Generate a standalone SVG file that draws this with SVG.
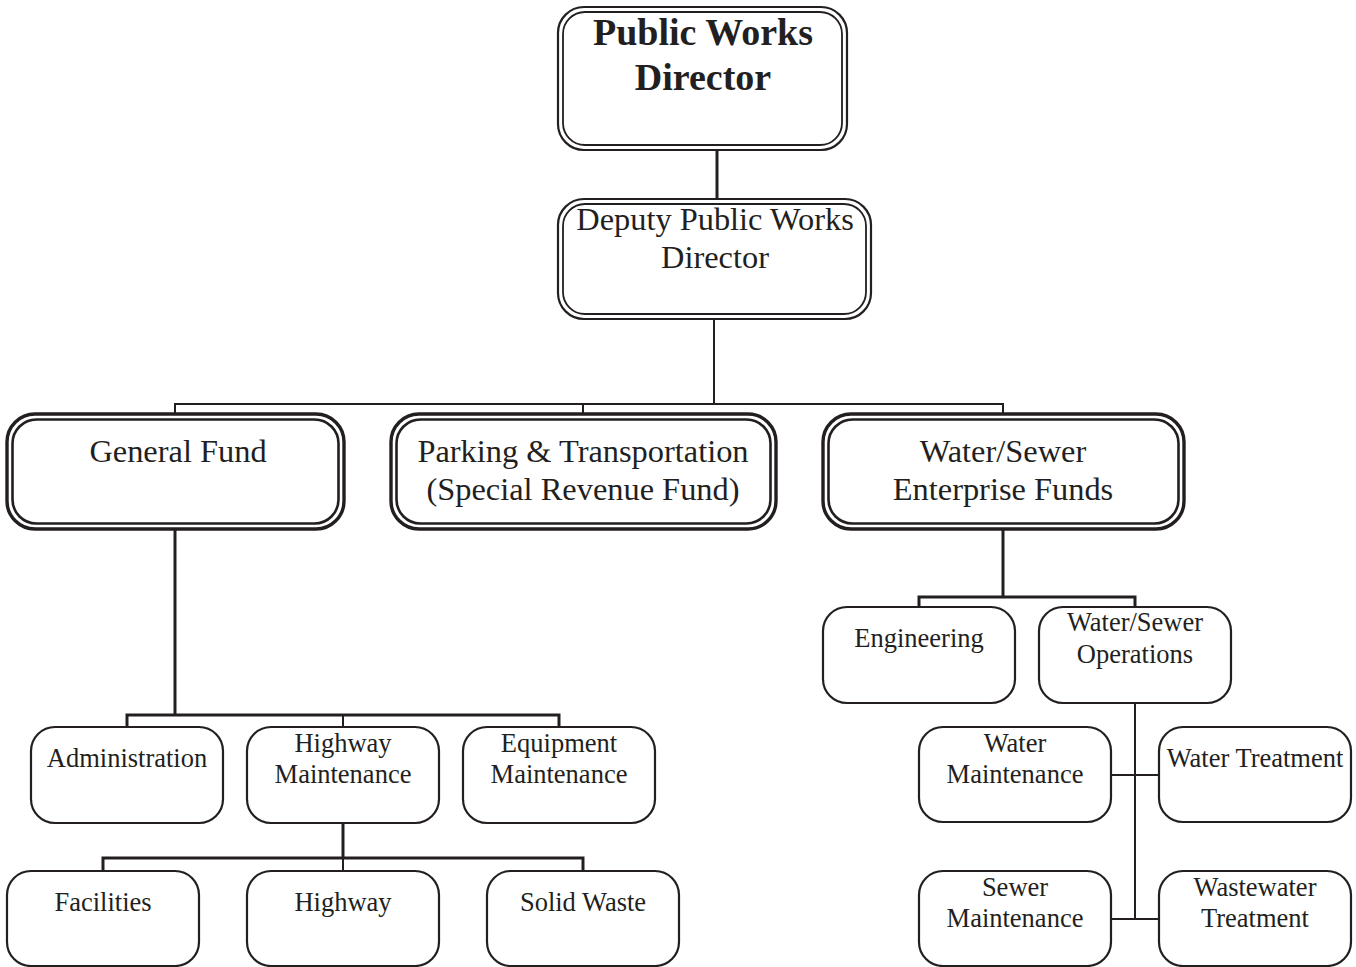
<svg xmlns="http://www.w3.org/2000/svg" width="1356" height="967" viewBox="0 0 1356 967">
  <style>
    text { font-family: "Liberation Serif", "Times New Roman", serif; fill: #231f20; text-anchor: middle; }
    .t1 { font-size: 38px; font-weight: bold; }
    .t2 { font-size: 32.4px; }
    .t3 { font-size: 26.5px; }
    .o1 { fill: #fff; stroke: #231f20; stroke-width: 2.2; }
    .i1 { fill: none; stroke: #231f20; stroke-width: 1.8; }
    .o2 { fill: #fff; stroke: #231f20; stroke-width: 3.4; }
    .i2 { fill: none; stroke: #231f20; stroke-width: 2.6; }
    .box { fill: #fff; stroke: #231f20; stroke-width: 2.2; }
    .ln { fill: none; stroke: #231f20; stroke-width: 3; }
    .ln2 { fill: none; stroke: #231f20; stroke-width: 2; }
  </style>

  <!-- connectors -->
  <g id="connectors">
    <path class="ln" d="M717 151 V198"/>
    <path class="ln2" d="M714 319 V404"/>
    <path class="ln2" d="M175 415 V404 H1003 V415 M583 404 V415"/>
    <path class="ln" d="M175 529 V715"/>
    <path class="ln" d="M127 727 V715 H559 V727"/>
    <path class="ln2" d="M343 715 V727"/>
    <path class="ln" d="M343 823 V858"/>
    <path class="ln" d="M103 871 V858 H583 V871"/>
    <path class="ln2" d="M343 858 V871"/>
    <path class="ln" d="M1003 529 V597"/>
    <path class="ln" d="M919 607 V597 H1135 V607"/>
    <path class="ln2" d="M1135 703 V919"/>
    <path class="ln2" d="M1111 775 H1158 M1111 919 H1158"/>
  </g>

  <g id="director">
    <rect class="o1" x="558" y="7" width="289" height="143" rx="26"/>
    <rect class="i1" x="563" y="12" width="279" height="133" rx="22"/>
    <text class="t1" x="703" y="45">Public Works</text>
    <text class="t1" x="703" y="90">Director</text>
  </g>

  <g id="deputy">
    <rect class="o1" x="558" y="199" width="313" height="120" rx="26"/>
    <rect class="i1" x="563" y="204" width="303" height="110" rx="22"/>
    <text class="t2" x="715" y="230">Deputy Public Works</text>
    <text class="t2" x="715" y="268">Director</text>
  </g>

  <g id="general-fund">
    <rect class="o2" x="7" y="414" width="337" height="115" rx="28"/>
    <rect class="i2" x="12.5" y="419.5" width="326" height="104" rx="24"/>
    <text class="t2" x="178" y="462">General Fund</text>
  </g>

  <g id="parking">
    <rect class="o2" x="391" y="414" width="385" height="115" rx="28"/>
    <rect class="i2" x="396.5" y="419.5" width="374" height="104" rx="24"/>
    <text class="t2" x="583" y="462">Parking &amp; Transportation</text>
    <text class="t2" x="583" y="500">(Special Revenue Fund)</text>
  </g>

  <g id="enterprise">
    <rect class="o2" x="823" y="414" width="361" height="115" rx="28"/>
    <rect class="i2" x="828.5" y="419.5" width="350" height="104" rx="24"/>
    <text class="t2" x="1003" y="462">Water/Sewer</text>
    <text class="t2" x="1003" y="500">Enterprise Funds</text>
  </g>

  <g id="administration">
    <rect class="box" x="31" y="727" width="192" height="96" rx="24"/>
    <text class="t3" x="127" y="767">Administration</text>
  </g>

  <g id="highway-maintenance">
    <rect class="box" x="247" y="727" width="192" height="96" rx="24"/>
    <text class="t3" x="343" y="752">Highway</text>
    <text class="t3" x="343" y="783">Maintenance</text>
  </g>

  <g id="equipment-maintenance">
    <rect class="box" x="463" y="727" width="192" height="96" rx="24"/>
    <text class="t3" x="559" y="752">Equipment</text>
    <text class="t3" x="559" y="783">Maintenance</text>
  </g>

  <g id="facilities">
    <rect class="box" x="7" y="871" width="192" height="95" rx="24"/>
    <text class="t3" x="103" y="911">Facilities</text>
  </g>

  <g id="highway">
    <rect class="box" x="247" y="871" width="192" height="95" rx="24"/>
    <text class="t3" x="343" y="911">Highway</text>
  </g>

  <g id="solid-waste">
    <rect class="box" x="487" y="871" width="192" height="95" rx="24"/>
    <text class="t3" x="583" y="911">Solid Waste</text>
  </g>

  <g id="engineering">
    <rect class="box" x="823" y="607" width="192" height="96" rx="24"/>
    <text class="t3" x="919" y="647">Engineering</text>
  </g>

  <g id="ws-operations">
    <rect class="box" x="1039" y="607" width="192" height="96" rx="24"/>
    <text class="t3" x="1135" y="631">Water/Sewer</text>
    <text class="t3" x="1135" y="663">Operations</text>
  </g>

  <g id="water-maintenance">
    <rect class="box" x="919" y="727" width="192" height="95" rx="24"/>
    <text class="t3" x="1015" y="752">Water</text>
    <text class="t3" x="1015" y="783">Maintenance</text>
  </g>

  <g id="water-treatment">
    <rect class="box" x="1159" y="727" width="192" height="95" rx="24"/>
    <text class="t3" x="1255" y="767">Water Treatment</text>
  </g>

  <g id="sewer-maintenance">
    <rect class="box" x="919" y="871" width="192" height="95" rx="24"/>
    <text class="t3" x="1015" y="896">Sewer</text>
    <text class="t3" x="1015" y="927">Maintenance</text>
  </g>

  <g id="wastewater-treatment">
    <rect class="box" x="1159" y="871" width="192" height="95" rx="24"/>
    <text class="t3" x="1255" y="896">Wastewater</text>
    <text class="t3" x="1255" y="927">Treatment</text>
  </g>
</svg>
